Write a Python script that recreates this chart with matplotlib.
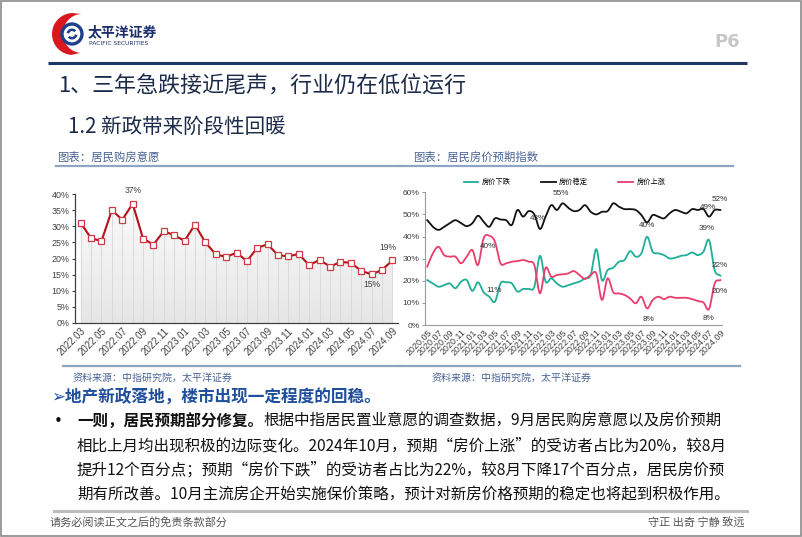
import numpy as np
import matplotlib
matplotlib.use("Agg")
import matplotlib.pyplot as plt
from matplotlib.patches import Rectangle, Polygon, Circle, Wedge
from matplotlib.colors import LinearSegmentedColormap
from matplotlib.ticker import PercentFormatter

plt.rcParams['font.family'] = ['Noto Sans CJK SC', 'DejaVu Sans']

# ---------------- data ----------------
# 居民购房意愿 (%), 2022.03 - 2024.09
buy_months = [f"{y}.{m:02d}" for y, m in
              [(2022, m) for m in range(3, 13)] + [(2023, m) for m in range(1, 13)] + [(2024, m) for m in range(1, 10)]]
buy_intent = [31.0, 26.3, 25.4, 35.0, 32.0, 37.0, 26.2, 24.3, 28.5, 27.2,
              25.5, 30.5, 25.0, 21.3, 20.5, 21.8, 19.2, 23.3, 24.4, 21.0,
              20.7, 21.4, 17.9, 19.6, 17.5, 18.9, 18.7, 16.2, 15.1, 16.4, 19.4]

# 居民房价预期指数 (%), 2020.05 - 2024.09
exp_months = [f"{y}.{m:02d}" for y, m in
              [(2020, m) for m in range(5, 13)] + [(y, m) for y in (2021, 2022, 2023) for m in range(1, 13)]
              + [(2024, m) for m in range(1, 10)]]
price_down = [20.3, 18.8, 17.3, 18.0, 18.8, 16.6, 19.6, 20.3, 15.4, 19.3,
              14.8, 12.8, 10.5, 18.8, 19.3, 18.8, 15.1, 16.3, 16.3, 17.3,
              31.3, 19.6, 21.1, 18.8, 17.3, 18.0, 18.8, 19.6, 21.1, 22.6,
              34.3, 20.3, 24.8, 25.9, 28.6, 29.4, 33.4, 30.9, 32.4, 39.9,
              33.1, 32.4, 31.6, 30.1, 30.4, 31.3, 31.6, 32.8, 31.6, 33.1,
              38.4, 24.8, 22.3]
price_stable = [47.4, 44.4, 43.0, 44.4, 46.0, 47.4, 46.0, 44.7, 46.0, 49.4,
                46.7, 44.4, 48.2, 47.7, 47.4, 45.2, 52.0, 49.0, 51.5, 50.0,
                43.4, 49.0, 54.2, 52.0, 55.0, 53.0, 51.5, 52.0, 54.2, 51.2,
                50.0, 51.2, 51.5, 55.0, 53.5, 52.4, 52.4, 52.0, 49.7, 46.4,
                49.7, 49.0, 48.2, 50.5, 52.0, 51.2, 50.5, 52.4, 52.0, 52.4,
                49.0, 52.0, 52.0]
price_up = [26.4, 32.4, 35.4, 31.6, 30.9, 30.9, 27.9, 30.9, 33.9, 27.1,
            39.2, 40.4, 37.7, 27.9, 27.9, 28.6, 28.9, 29.4, 28.6, 27.1,
            14.3, 25.9, 21.8, 22.6, 22.9, 23.3, 24.4, 22.6, 20.8, 22.6,
            23.3, 11.3, 21.1, 14.8, 14.3, 13.6, 12.0, 9.8, 12.8, 7.5,
            11.3, 12.8, 11.7, 12.8, 12.3, 12.3, 12.3, 11.7, 10.8, 10.2,
            7.2, 18.8, 20.3]

# labels: (index, text, dx px, dy px) / (series, index, text, dx px, dy px)
buy_labels = [(5, "37%", 0, 13), (28, "15%", 0, -10), (30, "19%", -4, 13)]
exp_labels = [("stable", 24, "55%", -2, 10), ("stable", 20, "43%", -2, 11),
              ("up", 11, "40%", -1, -11), ("down", 12, "11%", -1, 11),
              ("down", 39, "40%", 0, 11), ("up", 39, "8%", 1, -11),
              ("down", 50, "39%", -2, 12), ("stable", 50, "49%", -1, 9),
              ("stable", 52, "52%", -1, 10), ("down", 52, "22%", -1, 10),
              ("up", 52, "20%", -1, -11), ("up", 50, "8%", -1, -9)]

body_lines = [
    "相比上月均出现积极的边际变化。2024年10月，预期“房价上涨”的受访者占比为20%，较8月",
    "提升12个百分点；预期“房价下跌”的受访者占比为22%，较8月下降17个百分点，居民房价预",
    "期有所改善。10月主流房企开始实施保价策略，预计对新房价格预期的稳定也将起到积极作用。",
]


def smooth(xs, ys, n=10):
    # Catmull-Rom curve through the points (like Excel smoothed lines)
    xs = np.asarray(xs, float)
    ys = np.asarray(ys, float)
    px = np.concatenate([[2 * xs[0] - xs[1]], xs, [2 * xs[-1] - xs[-2]]])
    py = np.concatenate([[2 * ys[0] - ys[1]], ys, [2 * ys[-1] - ys[-2]]])
    t = np.linspace(0, 1, n, endpoint=False)
    ox, oy = [], []
    for i in range(1, len(px) - 2):
        for arr, out in ((px, ox), (py, oy)):
            p0, p1, p2, p3 = arr[i - 1:i + 3]
            out.extend(0.5 * (2 * p1 + (-p0 + p2) * t + (2 * p0 - 5 * p1 + 4 * p2 - p3) * t ** 2
                              + (-p0 + 3 * p1 - 3 * p2 + p3) * t ** 3))
    ox.append(xs[-1])
    oy.append(ys[-1])
    return np.array(ox), np.array(oy)


W, H = 802, 537
fig = plt.figure(figsize=(W / 100, H / 100), dpi=100)


def rect(l, t, r, b):
    return [l / W, 1 - b / H, (r - l) / W, (b - t) / H]


bg = fig.add_axes([0, 0, 1, 1])
bg.set_xlim(0, W)
bg.set_ylim(H, 0)
bg.axis('off')

# frame
bg.add_patch(Rectangle((0.8, 0.8), W - 1.6, H - 1.6, fill=False, ec='#8a8a8a', lw=1.2))

# logo
th = np.linspace(np.radians(95), np.radians(268), 40)
outer = np.c_[73 + 21 * np.cos(th), 34 + 21 * np.sin(th)]
th2 = th[::-1]
inner = np.c_[82 + 19 * np.cos(th2), 33.5 + 19.5 * np.sin(th2)]
bg.add_patch(Polygon(np.vstack([outer, inner]), closed=True, fc='#d7191f', ec='none'))
bg.add_patch(Circle((72, 34), 10, fc='white', ec='#1e3f8a', lw=2.4))
bg.add_patch(Wedge((72, 34), 5.5, 190, 320, width=2.6, fc='#1e3f8a', ec='none'))
bg.add_patch(Wedge((72, 34), 5.5, 10, 140, width=2.6, fc='#1e3f8a', ec='none'))
bg.text(88, 32, "太平洋证券", fontsize=10, fontweight='bold', color='#1c2f6b', va='center')
bg.text(89, 43.5, "PACIFIC SECURITIES", fontsize=4.3, color='#1c2f6b', va='center',
        family=['DejaVu Sans'])
bg.text(740, 42, "P6", fontsize=13, fontweight='bold', color='#c8c8c8', ha='right', va='center',
        family=['DejaVu Sans'])
bg.plot([48, 747], [63, 63], color='#1f3864', lw=2.2, solid_capstyle='butt')

# headings
bg.text(58, 87, "1、三年急跌接近尾声，行业仍在低位运行", fontsize=15.8, color='#1c2b4a', va='center')
bg.text(68, 127, "1.2 新政带来阶段性回暖", fontsize=14.8, color='#1c2b4a', va='center')

cap_color = '#4a6396'
bg.text(57, 157, "图表：居民购房意愿", fontsize=8.2, color=cap_color, va='center')
bg.text(413, 157, "图表：居民房价预期指数", fontsize=8.2, color=cap_color, va='center')
bg.plot([56, 400], [165.5, 165.5], color='#8fa5c3', lw=1.6)
bg.plot([400, 733], [165.5, 165.5], color='#8fa5c3', lw=1.6)
bg.plot([63, 400], [366, 366], color='#8fa5c3', lw=1.6)
bg.plot([400, 740], [366, 366], color='#8fa5c3', lw=1.6)
bg.text(73, 378, "资料来源：中指研究院，太平洋证券", fontsize=7.2, color=cap_color, va='center')
bg.text(432, 378, "资料来源：中指研究院，太平洋证券", fontsize=7.2, color=cap_color, va='center')

# text body
bg.text(51, 398, "➢地产新政落地，楼市出现一定程度的回稳。", fontsize=12, fontweight='bold',
        color='#1f4e9c', va='center', family=['Noto Sans CJK SC', 'DejaVu Sans'])
bg.text(54, 421, "•", fontsize=11, color='#111111', va='center', family=['DejaVu Sans'])
t_bold = bg.text(77, 421, "一则，居民预期部分修复。", fontsize=11.2, fontweight='bold',
                 color='#111111', va='center')
renderer = fig.canvas.get_renderer()
bb = t_bold.get_window_extent(renderer)
x_end = bg.transData.inverted().transform((bb.x1, bb.y0))[0]
bg.text(x_end, 421, "根据中指居民置业意愿的调查数据，9月居民购房意愿以及房价预期", fontsize=11.2,
        color='#111111', va='center')
for i, line in enumerate(body_lines):
    bg.text(77, 446 + i * 24.5, line, fontsize=11.2, color='#111111', va='center')

bg.plot([54, 747], [510.5, 510.5], color='#bdbdbd', lw=2.2)
bg.text(50, 522, "请务必阅读正文之后的免责条款部分", fontsize=8, color='#555555', va='center')
bg.text(745, 522, "守正 出奇 宁静 致远", fontsize=8, color='#555555', va='center', ha='right')

# ---------------- left chart ----------------
ax1 = fig.add_axes(rect(75, 194, 398, 323))
x1 = np.arange(len(buy_intent))
y1 = np.array(buy_intent) / 100
grad = np.linspace(0, 1, 256).reshape(-1, 1)
cmap = LinearSegmentedColormap.from_list('g', ['#e6e6e6', '#fcfcfc'])
fill = ax1.fill_between(x1, y1, 0, color='none')
img = ax1.imshow(grad, extent=[-0.5, len(x1) - 0.5, 0, 0.4], origin='lower', aspect='auto',
                 cmap=cmap, zorder=0)
img.set_clip_path(fill.get_paths()[0], transform=ax1.transData)
ax1.vlines(x1, 0, y1, color='#dadada', lw=0.7, zorder=1)
ax1.plot(x1, y1, color='#b5121b', lw=1.5, zorder=2)
ax1.plot(x1, y1, ls='none', marker='s', ms=4.6, mfc='white', mec='#cf3a44', mew=0.9, zorder=3)
for i, txt, dx, dy in buy_labels:
    ax1.annotate(txt, (x1[i], y1[i]), xytext=(dx, dy), textcoords='offset pixels',
                 ha='center', va='center', fontsize=6.2, color='#404040', family=['Liberation Sans'])
ax1.set_xlim(-0.55, len(x1) - 0.45)
ax1.set_ylim(0, 0.40)
ax1.set_yticks(np.arange(0, 0.41, 0.05))
ax1.yaxis.set_major_formatter(PercentFormatter(1.0, decimals=0))
ax1.set_xticks(x1[::2])
ax1.set_xticklabels(buy_months[::2], rotation=45, ha='right', rotation_mode='anchor')
for lab in ax1.get_xticklabels():
    lab.set_family(['Liberation Sans'])
    lab.set_fontsize(6.9)
    lab.set_color('#404040')
for lab in ax1.get_yticklabels():
    lab.set_family(['Liberation Sans'])
    lab.set_fontsize(6.4)
    lab.set_color('#404040')
ax1.tick_params(axis='y', length=2.5, width=0.8, color='#404040', pad=1.5)
ax1.tick_params(axis='x', length=0, pad=2)
for s in ('top', 'right'):
    ax1.spines[s].set_visible(False)
for s in ('left', 'bottom'):
    ax1.spines[s].set_color('#404040')
    ax1.spines[s].set_linewidth(0.9)
ax1.patch.set_alpha(0)

# ---------------- right chart ----------------
ax2 = fig.add_axes(rect(425, 192.3, 722, 325))
x2 = np.arange(len(price_down))
series = {"down": (price_down, '#1fae98', "房价下跌"),
          "stable": (price_stable, '#111111', "房价稳定"),
          "up": (price_up, '#e83e6c', "房价上涨")}
handles = []
for key in ("down", "stable", "up"):
    vals, col, name = series[key]
    sx, sy = smooth(x2, np.array(vals) / 100)
    h, = ax2.plot(sx, sy, color=col, lw=1.3, label=name)
    handles.append(h)
for key, i, txt, dx, dy in exp_labels:
    vals = series[key][0]
    ax2.annotate(txt, (x2[i], vals[i] / 100), xytext=(dx, dy), textcoords='offset pixels',
                 ha='center', va='center', fontsize=5.9, color='#333333', family=['Liberation Sans'])
ax2.set_xlim(-0.4, len(x2) - 0.7)
ax2.set_ylim(0, 0.60)
ax2.set_yticks(np.arange(0, 0.61, 0.10))
ax2.yaxis.set_major_formatter(PercentFormatter(1.0, decimals=0))
ax2.set_xticks(x2[::2])
ax2.set_xticklabels(exp_months[::2], rotation=45, ha='right', rotation_mode='anchor')
for lab in ax2.get_xticklabels():
    lab.set_family(['Liberation Sans'])
    lab.set_fontsize(6.4)
    lab.set_color('#404040')
for lab in ax2.get_yticklabels():
    lab.set_family(['Liberation Sans'])
    lab.set_fontsize(6.1)
    lab.set_color('#404040')
ax2.tick_params(axis='y', length=2.5, width=0.7, color='#9a9a9a', pad=1.5)
ax2.tick_params(axis='x', length=0, pad=2)
for s in ('top', 'right'):
    ax2.spines[s].set_visible(False)
for s in ('left', 'bottom'):
    ax2.spines[s].set_color('#9a9a9a')
    ax2.spines[s].set_linewidth(0.8)
leg = ax2.legend(handles=handles, loc='center', bbox_to_anchor=(0.47, 1.075), ncol=3,
                 frameon=False, handlelength=2.0, columnspacing=4.2, handletextpad=0.5,
                 prop={'size': 5.2, 'family': ['Noto Sans CJK SC']})
ax2.patch.set_alpha(0)

fig.savefig("out.png", dpi=100)
